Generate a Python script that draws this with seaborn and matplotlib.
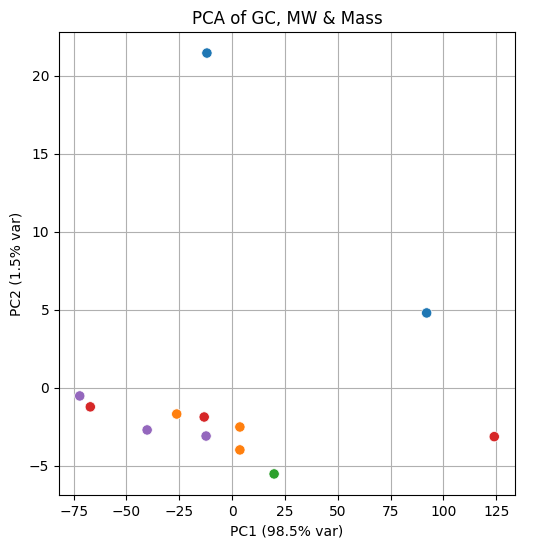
import pandas as pd
import matplotlib
matplotlib.use("Agg")
import matplotlib.pyplot as plt
import seaborn as sns


# PCA scores
groups = ["A", "A", "B", "B", "B", "C", "D", "D", "D", "E", "E", "E"]
pc1 = [-11.9, 92.1, -26.2, 3.7, 3.7, 19.9, -67.1, -13.2, 124.1, -72.1, -40.2, -12.3]
pc2 = [21.47, 4.81, -1.67, -2.50, -3.97, -5.51, -1.21, -1.86, -3.12, -0.51, -2.69, -3.08]
group_order = ["A", "B", "C", "D", "E"]
palette = ["#1f77b4", "#ff7f0e", "#2ca02c", "#d62728", "#9467bd"]

df = pd.DataFrame({"group": groups, "PC1": pc1, "PC2": pc2})

fig = plt.figure(figsize=(5.34, 5.47), dpi=100)
ax = fig.add_axes([0.1105, 0.0951, 0.8539, 0.8464])
sns.scatterplot(
    data=df, x="PC1", y="PC2", hue="group", hue_order=group_order,
    palette=palette, s=55, edgecolor="white", linewidth=0.5,
    legend=False, ax=ax, zorder=3,
)
ax.set_title("PCA of GC, MW & Mass")
ax.set_xlabel("PC1 (98.5% var)")
ax.set_ylabel("PC2 (1.5% var)")
ax.grid(True)
ax.set_axisbelow(True)

plt.savefig("out.png", dpi=100)
